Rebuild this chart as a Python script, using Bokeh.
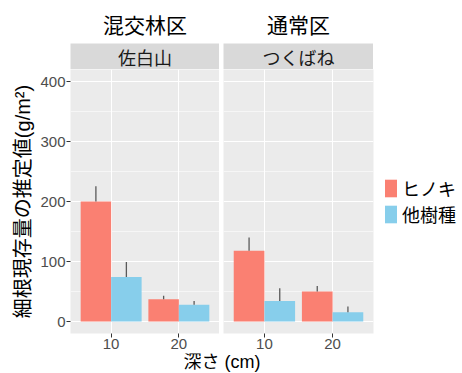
from bokeh.plotting import figure
from bokeh.layouts import row, column
from bokeh.models import (ColumnDataSource, Range1d, FixedTicker, Label,
                          Legend, LegendItem)
from bokeh.transform import dodge
from bokeh.embed import file_html
from bokeh.resources import INLINE

# ---- data -------------------------------------------------------------
groups = ["混交林区", "通常区"]
sites = ["佐白山", "つくばね"]
depths = ["10", "20"]
species = ["ヒノキ", "他樹種"]

sashiro_hinoki = [200, 37]
sashiro_hinoki_se = [25.5, 6]
sashiro_other = [74, 28]
sashiro_other_se = [25, 6]

tsukuba_hinoki = [118, 50]
tsukuba_hinoki_se = [22, 9]
tsukuba_other = [34, 15.5]
tsukuba_other_se = [21.5, 9.5]

y_ticks = [0, 100, 200, 300, 400]
y_minor = [50, 150, 250, 350]

# ---- style ------------------------------------------------------------
SALMON = "#FA8072"
SKY = "#87CEEB"
PANEL_BG = "#EBEBEB"
STRIP_BG = "#D9D9D9"
LATIN = "Liberation Sans"
CJK = "Noto Sans CJK JP"
MIXED = "Liberation Sans, Noto Sans CJK JP"

FRAME_H = 264
BOTTOM = 20
BAR_W = 0.45


def strip(group, site, frame_w, left):
    p = figure(frame_width=frame_w, frame_height=26,
               x_range=Range1d(0, 1), y_range=Range1d(0, 1),
               x_axis_location=None, y_axis_location=None,
               output_backend="svg", toolbar_location=None,
               min_border_left=left, min_border_right=0,
               min_border_top=43, min_border_bottom=0,
               background_fill_color=STRIP_BG, border_fill_color="white",
               outline_line_color=None)
    p.grid.visible = False
    p.title.text = group
    p.title.align = "center"
    p.title.text_font = CJK
    p.title.text_font_size = "21px"
    p.title.text_font_style = "normal"
    p.title.text_color = "black"
    p.title.standoff = 10
    p.add_layout(Label(x=0.5, y=0.5, text=site, text_align="center",
                       text_baseline="middle", text_font=CJK,
                       text_font_size="18px", text_color="#1A1A1A"))
    return p


def panel(hin, hin_se, oth, oth_se, frame_w, left, show_y):
    xpos = [i + 1 for i in range(len(depths))]
    p = figure(frame_width=frame_w, frame_height=FRAME_H,
               x_range=Range1d(0.4, len(depths) + 0.6),
               y_range=Range1d(-20, 420),
               y_axis_location="left" if show_y else None,
               output_backend="svg", toolbar_location=None,
               min_border_left=left, min_border_right=0,
               min_border_top=0, min_border_bottom=BOTTOM,
               background_fill_color=PANEL_BG, border_fill_color="white",
               outline_line_color=None)
    src = ColumnDataSource(dict(
        x=xpos,
        hin=hin, hin_top=[v + e for v, e in zip(hin, hin_se)],
        oth=oth, oth_top=[v + e for v, e in zip(oth, oth_se)],
    ))
    xh = dodge("x", -BAR_W / 2)
    xo = dodge("x", BAR_W / 2)
    rh = p.vbar(x=xh, top="hin", bottom=0, width=BAR_W, source=src,
                fill_color=SALMON, line_color=None)
    ro = p.vbar(x=xo, top="oth", bottom=0, width=BAR_W, source=src,
                fill_color=SKY, line_color=None)
    p.segment(x0=xh, y0="hin", x1=xh, y1="hin_top", source=src,
              line_color="#5A5A5A", line_width=1.3)
    p.segment(x0=xo, y0="oth", x1=xo, y1="oth_top", source=src,
              line_color="#5A5A5A", line_width=1.3)

    # grid
    p.xgrid.ticker = FixedTicker(ticks=xpos, minor_ticks=[])
    p.ygrid.ticker = FixedTicker(ticks=y_ticks, minor_ticks=y_minor)
    p.grid.grid_line_color = "white"
    p.grid.grid_line_width = 1.1
    p.ygrid.minor_grid_line_color = "white"
    p.ygrid.minor_grid_line_width = 0.55

    # axes
    axes = list(p.xaxis) + (list(p.yaxis) if show_y else [])
    for ax in axes:
        ax.axis_line_color = None
        ax.major_tick_line_color = "#333333"
        ax.major_tick_out = 4
        ax.major_tick_in = 0
        ax.minor_tick_line_color = None
        ax.major_label_text_font = LATIN
        ax.major_label_text_font_size = "15px"
        ax.major_label_text_color = "#4D4D4D"
        ax.major_label_standoff = 1
    p.xaxis.ticker = FixedTicker(ticks=xpos, minor_ticks=[])
    p.xaxis.major_label_overrides = {x: d for x, d in zip(xpos, depths)}
    if show_y:
        p.yaxis.ticker = FixedTicker(ticks=y_ticks, minor_ticks=[])
        p.yaxis.axis_label = "細根現存量の推定値(g/m²)"
        p.yaxis.axis_label_text_font = MIXED
        p.yaxis.axis_label_text_font_size = "20px"
        p.yaxis.axis_label_text_font_style = "normal"
        p.yaxis.axis_label_text_color = "black"
        p.yaxis.axis_label_standoff = 3
    return p, rh, ro


sL = strip(groups[0], sites[0], 149, 70)
sR = strip(groups[1], sites[1], 150, 4)

pL, _, _ = panel(sashiro_hinoki, sashiro_hinoki_se, sashiro_other,
                 sashiro_other_se, 149, 70, True)
pR, rh, ro = panel(tsukuba_hinoki, tsukuba_hinoki_se, tsukuba_other,
                   tsukuba_other_se, 150, 4, False)

legend = Legend(items=[LegendItem(label=species[0], renderers=[rh]),
                       LegendItem(label=species[1], renderers=[ro])],
                location="left", orientation="vertical",
                margin=10, padding=8, spacing=-8,
                glyph_width=15, glyph_height=22, label_height=18,
                label_standoff=4,
                label_text_font=MIXED, label_text_font_size="18px",
                label_text_color="black",
                border_line_color=None, background_fill_color=None)
pR.add_layout(legend, "right")

# shared x-axis title under both panels
xf = figure(frame_width=303, frame_height=20,
            x_range=Range1d(0, 1), y_range=Range1d(0, 1),
            x_axis_location=None, y_axis_location=None,
            output_backend="svg", toolbar_location=None,
            min_border_left=70, min_border_right=0,
            min_border_top=0, min_border_bottom=0,
            background_fill_color="white", border_fill_color="white",
            outline_line_color=None)
xf.grid.visible = False
xf.add_layout(Label(x=0.5, y=0.6, text="深さ (cm)", text_align="center",
                    text_baseline="middle", text_font=MIXED,
                    text_font_size="18px", text_color="black"))

layout = column(row(sL, sR), row(pL, pR), xf)

open("out.html", "w").write(file_html(layout, INLINE))
